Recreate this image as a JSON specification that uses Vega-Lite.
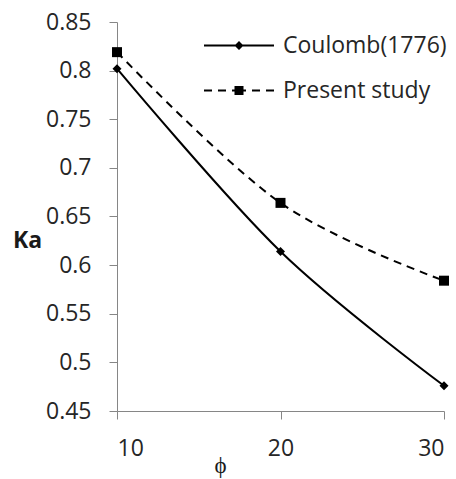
{
  "$schema": "https://vega.github.io/schema/vega-lite/v6.json",
  "width": 327,
  "height": 389,
  "autosize": {"type": "none"},
  "padding": {"left": 117, "top": 22, "right": 12, "bottom": 68},
  "background": "white",
  "config": {
    "view": {"stroke": null},
    "font": "Open Sans",
    "axis": {
      "grid": false,
      "domainColor": "#868686",
      "tickColor": "#868686",
      "domainWidth": 1,
      "tickWidth": 1,
      "tickSize": 8,
      "labelFont": "Open Sans",
      "labelFontSize": 23,
      "labelColor": "#262626",
      "titleFont": "Open Sans",
      "titleFontSize": 23,
      "titleColor": "#1a1a1a"
    }
  },
  "data": {
    "values": [
      {"phi": 10, "Ka": 0.802, "series": "Coulomb(1776)"},
      {"phi": 20, "Ka": 0.614, "series": "Coulomb(1776)"},
      {"phi": 30, "Ka": 0.476, "series": "Coulomb(1776)"},
      {"phi": 10, "Ka": 0.819, "series": "Present study"},
      {"phi": 20, "Ka": 0.664, "series": "Present study"},
      {"phi": 30, "Ka": 0.584, "series": "Present study"}
    ]
  },
  "encoding": {
    "x": {
      "field": "phi",
      "type": "quantitative",
      "scale": {"domain": [10, 30], "nice": false, "zero": false},
      "axis": {
        "values": [10, 20, 30],
        "labelPadding": 18,
        "title": "ϕ",
        "titleFontWeight": "normal",
        "titleX": 103,
        "titleY": 54,
        "titleAlign": "center",
        "titleBaseline": "middle"
      }
    },
    "y": {
      "field": "Ka",
      "type": "quantitative",
      "scale": {"domain": [0.45, 0.85], "nice": false, "zero": false},
      "axis": {
        "values": [0.45, 0.5, 0.55, 0.6, 0.65, 0.7, 0.75, 0.8, 0.85],
        "format": "~g",
        "labelPadding": 18,
        "title": "Ka",
        "titleAngle": 0,
        "titleFontWeight": "bold",
        "titleX": -90,
        "titleY": 218,
        "titleAlign": "center",
        "titleBaseline": "middle"
      }
    }
  },
  "layer": [
    {
      "transform": [{"filter": "datum.series === 'Coulomb(1776)'"}],
      "mark": {"type": "line", "interpolate": "cardinal", "color": "black", "strokeWidth": 2},
      "encoding": {}
    },
    {
      "transform": [{"filter": "datum.series === 'Present study'"}],
      "mark": {"type": "line", "interpolate": "cardinal", "color": "black", "strokeWidth": 2, "strokeDash": [8, 6]},
      "encoding": {}
    },
    {
      "transform": [{"filter": "datum.series === 'Coulomb(1776)'"}],
      "mark": {"type": "point", "shape": "diamond", "filled": true, "color": "black", "opacity": 1, "size": 81},
      "encoding": {}
    },
    {
      "transform": [{"filter": "datum.series === 'Present study'"}],
      "mark": {"type": "point", "shape": "square", "filled": true, "color": "black", "opacity": 1, "size": 100},
      "encoding": {}
    },
    {
      "transform": [{"filter": "datum.phi < 0"}],
      "mark": {"type": "point", "filled": true, "color": "black", "opacity": 1},
      "encoding": {
        "shape": {
          "field": "series",
          "type": "nominal",
          "scale": {
            "domain": ["Coulomb(1776)", "Present study"],
            "range": [
              "M-3.5,-0.1H3.5V0.1H-3.5ZM0,-0.45L0.45,0L0,0.45L-0.45,0Z",
              "M-3.5,-0.1H-2.7V0.1H-3.5ZM-2.1,-0.1H-1.3V0.1H-2.1ZM-0.7,-0.1H0.7V0.1H-0.7ZM1.3,-0.1H2.1V0.1H1.3ZM2.7,-0.1H3.5V0.1H2.7ZM-0.45,-0.45H0.45V0.45H-0.45Z"
            ]
          },
          "legend": {
            "title": null,
            "orient": "none",
            "legendX": 110.5,
            "legendY": 12,
            "padding": 0,
            "symbolSize": 400,
            "symbolFillColor": "black",
            "labelOffset": 32.5,
            "rowPadding": 21,
            "labelFont": "Open Sans",
            "labelFontSize": 23,
            "labelColor": "#262626",
            "labelLimit": 300,
            "encode": {
              "symbols": {
                "update": {
                  "fill": {"value": "black"},
                  "opacity": {"value": 1}
                }
              }
            }
          }
        }
      }
    }
  ]
}
